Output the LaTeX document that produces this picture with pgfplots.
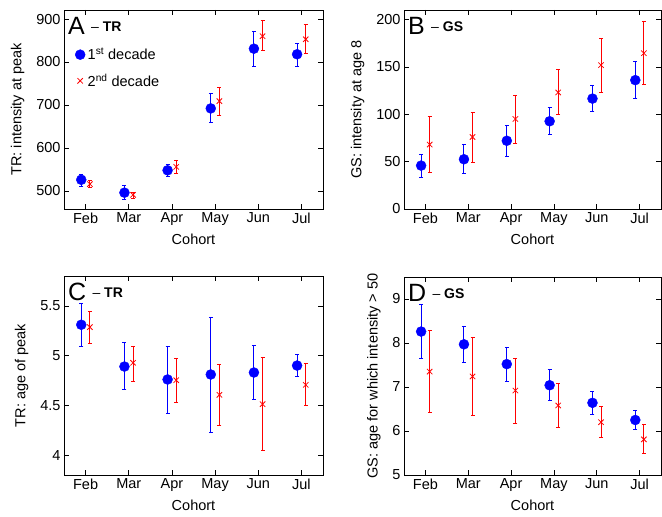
\documentclass[border=0pt]{standalone}
\usepackage{pgfplots}
\usepackage{pgfplotstable}
\pgfplotsset{compat=1.18}
\usetikzlibrary{arrows.meta}
\usepackage{fontspec}
\setmainfont{Liberation Sans}
\newcommand{\plabel}[2]{{\fontsize{25}{25}\selectfont #1}\,{\fontsize{14}{14}\selectfont\raisebox{3pt}{ – \textbf{#2}}}}
% x, mean, error above (ep), error below (em)
\pgfplotstableread{
x y ep em
0.9 526 14 16
1.9 496 17 17
2.9 548 14 15
3.9 692 37 35
4.9 831 40 42
5.9 818 27 29
}\Ablue
\pgfplotstableread{
x y ep em
1.1 516 10 8
2.1 491 7 10
3.1 556 17 17
4.1 709 34 35
5.1 860 38 35
6.1 853 36 35
}\Ared
\pgfplotstableread{
x y ep em
0.9 45.8 12.7 13
1.9 52.5 15.8 15.2
2.9 72 16.7 17.4
3.9 92.6 15 14.8
4.9 116.5 14 14
5.9 136 20 20
}\Bblue
\pgfplotstableread{
x y ep em
1.1 68 30 30
2.1 76 26.5 27
3.1 95 25 26
4.1 123 25 23.5
5.1 151.8 28.8 29.8
6.1 164.4 33.6 33.4
}\Bred
\pgfplotstableread{
x y ep em
0.9 5.31 0.22 0.22
1.9 4.89 0.245 0.24
2.9 4.76 0.34 0.35
3.9 4.81 0.58 0.59
4.9 4.83 0.275 0.28
5.9 4.90 0.12 0.12
}\Cblue
\pgfplotstableread{
x y ep em
1.1 5.286 0.16 0.165
2.1 4.928 0.17 0.19
3.1 4.753 0.22 0.23
4.1 4.606 0.31 0.315
5.1 4.512 0.476 0.472
6.1 4.706 0.218 0.214
}\Cred
\pgfplotstableread{
x y ep em
0.9 8.26 0.63 0.63
1.9 7.97 0.42 0.42
2.9 7.52 0.39 0.395
3.9 7.04 0.37 0.35
4.9 6.64 0.27 0.28
5.9 6.25 0.22 0.23
}\Dblue
\pgfplotstableread{
x y ep em
1.1 7.35 0.95 0.95
2.1 7.24 0.89 0.90
3.1 6.92 0.74 0.75
4.1 6.58 0.51 0.52
5.1 6.20 0.37 0.35
6.1 5.81 0.35 0.34
}\Dred
\begin{document}
\begin{tikzpicture}[x=1pt,y=1pt]
\pgfplotsset{
  every axis/.append style={
    scale only axis,
    anchor=south west,
    font=\fontsize{14.5}{16}\selectfont,
    /pgf/number format/assume math mode=true,
    xmin=0.5, xmax=6.5,
    xtick={1,2,3,4,5,6},
    xticklabels={Feb,Mar,Apr,May,Jun,Jul},
    xlabel={Cohort},
    tick align=inside,
    major tick length=5pt,
    axis line style={line width=0.9pt},
    every tick/.style={black, line width=0.6pt},
    xlabel style={yshift=-2pt},
    ylabel style={yshift=5pt},
    clip=false,
  },
  ebar/.style={forget plot, no marks, line width=1pt, draw=#1, color=#1,
    {Bar[width=4pt,line width=1pt]}-{Bar[width=4pt,line width=1pt]},
    quiver={u=0, v=\thisrow{ep}+\thisrow{em}}},
  bluemk/.style={only marks, mark=*, mark size=5pt, color=blue, mark options={fill=blue, draw=blue}},
  redmk/.style={only marks, mark=x, mark size=3.8pt, color=red, mark options={draw=red, line width=0.8pt}},
}
\newcommand{\series}[2]{%
  \addplot[ebar=#2] table[x=x, y expr=\thisrow{y}-\thisrow{em}] {#1};
}
% ---------- A ----------
\begin{axis}[at={(64pt,308pt)}, width=259pt, height=199pt,
  ymin=458, ymax=921, ytick={500,600,700,800,900},
  ylabel={TR: intensity at peak},
  legend image code/.code={\draw[#1] plot coordinates {(0pt,0pt)};},
  legend style={at={(rel axis cs:0.0,0.83)}, anchor=north west, draw=none, fill=none,
    row sep=8.5pt, inner xsep=11pt, font=\fontsize{14.5}{16}\selectfont,
    nodes={inner xsep=2.5pt}},
  legend cell align=left]
\series{\Ablue}{blue}
\series{\Ared}{red}
\addplot[bluemk] table[x=x,y=y] {\Ablue};
\addlegendentry{1\textsuperscript{st} decade}
\addplot[redmk] table[x=x,y=y] {\Ared};
\addlegendentry{2\textsuperscript{nd} decade}
\node[anchor=north west, inner sep=0pt] at ([xshift=4pt,yshift=-7pt]rel axis cs:0,1) {\plabel{A}{TR}};
\end{axis}
% ---------- B ----------
\begin{axis}[at={(404pt,308pt)}, width=257pt, height=199pt,
  ymin=0, ymax=210, ytick={0,50,100,150,200},
  ylabel={GS: intensity at age 8}]
\series{\Bblue}{blue}
\series{\Bred}{red}
\addplot[bluemk] table[x=x,y=y] {\Bblue};
\addplot[redmk] table[x=x,y=y] {\Bred};
\node[anchor=north west, inner sep=0pt] at ([xshift=4pt,yshift=-7pt]rel axis cs:0,1) {\plabel{B}{GS}};
\end{axis}
% ---------- C ----------
\begin{axis}[at={(64pt,42pt)}, width=259pt, height=199pt,
  ymin=3.8, ymax=5.8, ytick={4,4.5,5,5.5},
  yticklabel style={/pgf/number format/fixed},
  ylabel={TR: age of peak}]
\series{\Cblue}{blue}
\series{\Cred}{red}
\addplot[bluemk] table[x=x,y=y] {\Cblue};
\addplot[redmk] table[x=x,y=y] {\Cred};
\node[anchor=north west, inner sep=0pt] at ([xshift=4pt,yshift=-7pt]rel axis cs:0,1) {\plabel{C}{TR}};
\end{axis}
% ---------- D ----------
\begin{axis}[at={(404pt,42pt)}, width=257pt, height=198pt,
  ymin=5, ymax=9.5, ytick={5,6,7,8,9},
  ylabel={GS: age for which intensity > 50}]
\series{\Dblue}{blue}
\series{\Dred}{red}
\addplot[bluemk] table[x=x,y=y] {\Dblue};
\addplot[redmk] table[x=x,y=y] {\Dred};
\node[anchor=north west, inner sep=0pt] at ([xshift=4pt,yshift=-7pt]rel axis cs:0,1) {\plabel{D}{GS}};
\end{axis}
\pgfresetboundingbox
\path[use as bounding box] (0pt,0pt) rectangle (662pt,517pt);
\end{tikzpicture}
\end{document}
